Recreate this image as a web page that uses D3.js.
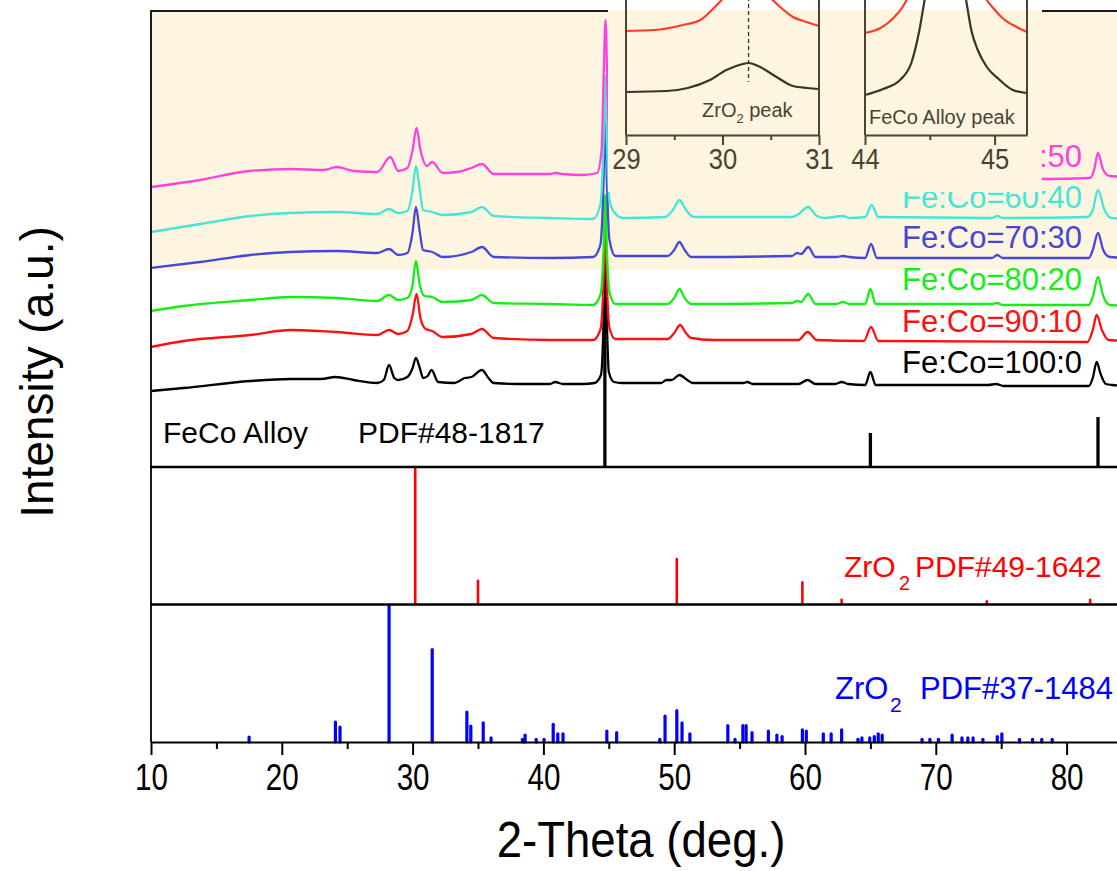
<!DOCTYPE html>
<html><head><meta charset="utf-8">
<script src="https://cdn.jsdelivr.net/npm/d3@7"></script>
<style>body{margin:0;background:#fff}svg{display:block}text{font-family:"Liberation Sans",Arial,sans-serif}</style>
</head><body><svg id="c" width="1117" height="871"></svg>
<script>
// ---------- DATA (2-theta in degrees, intensity in a.u.) ----------
const seriesNames = ["Fe:Co=100:0","Fe:Co=90:10","Fe:Co=80:20","Fe:Co=70:30","Fe:Co=60:40","Fe:Co=50:50"];
const s100_0 = [[10,76],[12.5,79],[17.6,86],[20.7,88],[23,88],[24.1,90],[25.5,87],[27.3,84],[27.8,87],[28.2,102],[28.6,89],[28.9,87],[29.6,90],[30,99],[30.25,109],[30.55,99],[30.8,89],[31.15,91],[31.45,97],[31.95,85],[33.2,84],[34,89],[34.5,90],[35.3,97],[35.8,89],[36.2,84],[38,83],[40.5,83],[40.9,85],[41.5,83],[43,83],[43.9,84],[44.4,92],[44.6,147],[44.72,227],[44.85,147],[45,95],[45.4,85],[46,84],[49,84],[49.4,87],[49.8,87],[50.4,92],[51,87],[51.4,84],[55.3,84],[55.6,85],[56,83],[59.5,83],[60.2,87],[60.8,83],[62.3,83],[62.8,85],[63.3,83],[64.6,82],[65,95],[65.4,82],[74,82],[74.6,83],[75.2,81],[81.7,81],[82,89],[82.3,105],[82.6,93],[83,83],[83.5,82],[85,81]];
const s90_10 = [[10,120],[12.5,126],[17.6,132],[20.7,137],[24.2,135],[27.3,132],[28.2,137],[28.9,133],[29.6,136],[30,152],[30.3,173],[30.6,149],[31,138],[31.5,136],[32.3,130],[34.5,133],[35.3,138],[36.2,129],[40.5,127],[43.8,127],[44.35,137],[44.6,187],[44.72,257],[44.85,187],[45.05,139],[45.5,128],[49.5,128],[50,134],[50.45,142],[50.9,134],[51.3,129],[53,127],[59.5,127],[60.2,135],[60.9,127],[64.5,126],[65.05,140],[65.6,126],[81.6,125],[82,137],[82.3,152],[82.7,137],[83.2,127],[85,126]];
const s80_20 = [[10,156],[12.5,161],[17.6,167],[20.7,170],[24.2,169],[27.3,166],[28.2,172],[28.9,167],[29.6,169],[30,182],[30.25,206],[30.55,182],[30.9,171],[31.5,170],[32.3,165],[34.5,167],[35.3,172],[36.2,164],[40.5,163],[43.8,162],[44.35,172],[44.6,217],[44.72,272],[44.85,217],[45.05,175],[45.5,163],[49.5,163],[50,169],[50.4,178],[50.8,169],[51.3,163],[59,164],[59.4,166],[59.7,165],[60.25,173],[60.8,163],[62.4,163],[62.9,165],[63.4,163],[64.6,163],[65,178],[65.4,163],[74.3,163],[74.7,164],[75.1,162],[81.7,162],[82,170],[82.4,190],[82.8,171],[83.3,162],[85,161]];
const s70_30 = [[10,199],[13.75,205],[17.6,212],[20.6,215],[24.2,216],[27.3,214],[28.2,218],[28.9,212],[29.6,214],[30,235],[30.25,260],[30.55,235],[30.8,217],[31.5,215],[32.3,210],[34.5,215],[35.3,220],[36.2,210],[40.5,209],[43.8,210],[44.35,222],[44.6,287],[44.72,354],[44.85,287],[45.05,227],[45.5,211],[49.5,211],[50,217],[50.4,225],[50.8,217],[51.3,210],[59,211],[59.4,214],[59.7,213],[60.25,220],[60.8,210],[62.4,210],[62.9,211],[63.4,210],[64.6,209],[65.05,223],[65.5,209],[74.3,209],[74.7,212],[75.1,209],[81.7,209],[82,217],[82.4,234],[82.8,217],[83.3,210],[85,209]];
const s60_40 = [[10,235],[13.75,243],[17.6,251],[20.6,254],[24.2,255],[27.3,253],[28.2,258],[28.9,254],[29.6,256],[30,277],[30.25,301],[30.55,277],[30.8,257],[31.5,255],[32.3,252],[34.5,255],[35.3,260],[36.2,251],[40.5,249],[43.8,248],[44.35,262],[44.6,327],[44.72,392],[44.85,327],[45.05,267],[45.4,255],[46.1,249],[49.3,250],[49.9,257],[50.4,267],[50.9,257],[51.5,250],[59,250],[59.5,253],[60.25,260],[60.9,251],[61.5,249],[62.9,251],[63.4,249],[64.6,250],[65.1,262],[65.6,250],[74.3,249],[74.7,251],[75.1,249],[81.6,250],[82,257],[82.4,277],[82.9,257],[83.4,249],[85,248]];
const s50_50 = [[10,280],[13.75,287],[17.5,296],[20.7,298],[23.2,297],[24.2,300],[25.5,296],[27.3,295],[28.3,310],[28.9,296],[29.6,299],[30,317],[30.3,339],[30.6,317],[31.1,301],[31.5,305],[32.3,294],[33.4,295],[34.5,299],[35.3,303],[36.2,293],[40.5,293],[40.9,294],[41.5,293],[43,292],[44.1,294],[44.45,317],[44.6,387],[44.75,447],[44.9,377],[45.1,307],[45.5,291],[78.5,288],[81.8,289],[82.1,297],[82.4,314],[82.8,297],[83.3,291],[85,290]];

// Reference patterns (position in 2-theta, relative intensity %)
const feCoPos = [44.7, 65.0, 82.4];
const feCoInt = [100, 15, 22];
const zrTetPos = [30.2, 35.0, 50.2, 59.8, 62.8, 73.9, 81.8];
const zrTetInt = [100, 17, 33, 16, 3, 2, 3];
const zrMonoPos = [17.5,24.1,24.45,28.2,31.5,34.15,34.45,35.4,36.0,38.4,38.6,39.45,40.05,40.75,41.1,41.5,44.85,45.6,48.9,49.3,50.2,50.6,51.2,54.1,54.65,55.25,55.5,55.95,57.2,57.85,58.25,59.8,60.1,61.4,62.0,62.8,64.05,64.35,64.95,65.3,65.6,65.9,68.95,69.55,70.2,71.25,72.0,72.45,72.85,73.6,74.7,75.05,76.4,77.4,78.1,78.9];
const zrMonoInt = [3.6,14.6,11,100,68,22,11.7,14,3,2,5,2,2,13,6,6,8,7,2,19,23,14,6,12,2,12,12,7,8,5,4,9,8,6,6,9,2,3,3,4,6,5,2,2,2,5,3,3,3,2,4,6,2,2,2,2];

// Insets (zoomed patterns of Fe:Co=100:0 and Fe:Co=90:10)
const insetZrBlack = [[29,43],[29.42,44],[29.64,47],[29.87,55],[30.04,65],[30.21,71],[30.27,72],[30.39,68],[30.56,58],[30.73,49],[30.88,47],[31,46]];
const insetZrRed = [[29,104],[29.3,105],[29.59,110],[29.77,115],[29.89,125],[29.99,135],[30.12,149],[30.27,155],[30.4,148],[30.52,135],[30.61,127],[30.73,118],[30.87,113],[31,109]];
const insetFeBlack = [[44,40],[44.14,46],[44.27,55],[44.36,73],[44.42,105],[44.46,135],[44.54,185],[44.62,215],[44.7,185],[44.78,135],[44.82,105],[44.87,85],[44.94,68],[45.04,55],[45.14,45],[45.25,42]];
const insetFeRed = [[44,102],[44.12,107],[44.22,117],[44.29,128],[44.32,135],[44.45,195],[44.62,255],[44.8,195],[44.94,135],[44.99,127],[45.06,117],[45.17,108],[45.25,103]];
const inset1Ticks = [29,30,31], inset1Minor = [29.5,30.5];
const inset2Ticks = [44,45], inset2Minor = [44.5];
const zrPeakPos = 30.27;

const xTicks = [10,20,30,40,50,60,70,80];
const xMinor = [15,25,35,45,55,65,75,85];

// ---------- DRAWING ----------
const svg = d3.select("#c");
const colors = ["#000000","#ff1010","#14ee14","#4646dc","#44e6d6","#ff42dc"];
const beige = "#fdf5e0";
const inkInset = "#4a4232";

const x = d3.scaleLinear().domain([10,90]).range([151, 151+80*13.08]);
const yMain = d3.scaleLinear().domain([0,457]).range([467,10]);
const yTopStick = d3.scaleLinear().domain([0,100]).range([467,240]);
const yMidStick = d3.scaleLinear().domain([0,100]).range([604,468]);
const yBotStick = d3.scaleLinear().domain([0,100]).range([742,606]);

svg.append("rect").attr("x",0).attr("y",0).attr("width",1117).attr("height",871).attr("fill","#fff");
svg.append("rect").attr("x",151).attr("y",11).attr("width",1000).attr("height",259).attr("fill",beige);

// reference sticks
svg.append("g").selectAll("line").data(feCoPos).join("line")
  .attr("x1",d=>x(d)).attr("x2",d=>x(d)).attr("y1",yTopStick(0)).attr("y2",(d,i)=>yTopStick(feCoInt[i]))
  .attr("stroke","#000").attr("stroke-width",3.3);
svg.append("g").selectAll("line").data(zrTetPos).join("line")
  .attr("x1",d=>x(d)).attr("x2",d=>x(d)).attr("y1",yMidStick(0)).attr("y2",(d,i)=>yMidStick(zrTetInt[i]))
  .attr("stroke","#ff0000").attr("stroke-width",2.6).attr("stroke-linecap","round");
svg.append("g").selectAll("line").data(zrMonoPos).join("line")
  .attr("x1",d=>x(d)).attr("x2",d=>x(d)).attr("y1",yBotStick(0)).attr("y2",(d,i)=>yBotStick(zrMonoInt[i]))
  .attr("stroke","#0000ff").attr("stroke-width",3.2).attr("stroke-linecap","round");

// curves
const line = d3.line().x(d=>x(d[0])).y(d=>yMain(d[1])).curve(d3.curveMonotoneX);
const allSeries = [s100_0,s90_10,s80_20,s70_30,s60_40,s50_50];
svg.append("g").selectAll("path").data(allSeries).join("path")
  .attr("d",line).attr("fill","none").attr("stroke",(d,i)=>colors[i]).attr("stroke-width",2.3).attr("stroke-linejoin","round");

// series labels
const labelBase = [373,332,290,248,208,167];
svg.append("g").selectAll("text").data(seriesNames).join("text")
  .attr("x",902).attr("y",(d,i)=>labelBase[i]).attr("font-size",31).attr("fill",(d,i)=>colors[i]).text(d=>d);

// cover box for insets
svg.append("rect").attr("x",608).attr("y",10).attr("width",434).attr("height",182).attr("fill",beige);

// insets
function inset(domain, r0, r1, blk, red, ticks, minor){
  const xi = d3.scaleLinear().domain(domain).range([r0,r1]);
  const yi = d3.scaleLinear().domain([0,135]).range([135,0]);
  const g = svg.append("g");
  const l = d3.line().x(d=>xi(d[0])).y(d=>yi(d[1])).curve(d3.curveMonotoneX);
  g.append("path").attr("d",l(red)).attr("fill","none").attr("stroke","#ff3a28").attr("stroke-width",2.2);
  g.append("path").attr("d",l(blk)).attr("fill","none").attr("stroke","#3a3328").attr("stroke-width",2.2);
  g.append("line").attr("x1",r0).attr("x2",r0).attr("y1",-10).attr("y2",135).attr("stroke",inkInset).attr("stroke-width",2);
  g.append("line").attr("x1",r1).attr("x2",r1).attr("y1",-10).attr("y2",135).attr("stroke",inkInset).attr("stroke-width",2);
  const ax = g.append("g").attr("transform","translate(0,135)")
    .call(d3.axisBottom(xi).tickValues(ticks).tickSize(10).tickSizeOuter(0).tickPadding(3).tickFormat(d3.format("d")));
  ax.select(".domain").attr("stroke",inkInset).attr("stroke-width",2);
  ax.selectAll(".tick line").attr("stroke",inkInset).attr("stroke-width",2);
  ax.selectAll(".tick text").attr("font-size",30).attr("fill",inkInset).attr("font-family","Liberation Sans, Arial, sans-serif").attr("transform","scale(0.85,1)");
  const axm = g.append("g").attr("transform","translate(0,135)")
    .call(d3.axisBottom(xi).tickValues(minor).tickSize(5).tickSizeOuter(0).tickFormat(""));
  axm.select(".domain").remove();
  axm.selectAll(".tick line").attr("stroke",inkInset).attr("stroke-width",2);
  return {g, xi};
}
const in1 = inset([29,31],626,819,insetZrBlack,insetZrRed,inset1Ticks,inset1Minor);
in1.g.append("line").attr("x1",in1.xi(zrPeakPos)).attr("x2",in1.xi(zrPeakPos)).attr("y1",-10).attr("y2",82)
  .attr("stroke","#3a3328").attr("stroke-width",1.3).attr("stroke-dasharray","4,3");
const t1 = in1.g.append("text").attr("x",702).attr("y",117).attr("font-size",20).attr("fill",inkInset);
t1.append("tspan").text("ZrO");
t1.append("tspan").attr("font-size",13).attr("dy",6).text("2");
t1.append("tspan").attr("dy",-6).text(" peak");
const in2 = inset([44,45.25],865,1027,insetFeBlack,insetFeRed,inset2Ticks,inset2Minor);
in2.g.append("text").attr("x",869).attr("y",124).attr("font-size",20).attr("fill",inkInset).text("FeCo Alloy peak");

// frame / axes
const frame = svg.append("g").attr("stroke","#1a1a1a").attr("stroke-width",2);
frame.append("line").attr("x1",150).attr("x2",608).attr("y1",11).attr("y2",11);
frame.append("line").attr("x1",1042).attr("x2",1117).attr("y1",11).attr("y2",11);
frame.append("line").attr("x1",151).attr("x2",151).attr("y1",10).attr("y2",742);
frame.append("line").attr("x1",150).attr("x2",1117).attr("y1",467).attr("y2",467).attr("stroke","#000").attr("stroke-width",2.4);
frame.append("line").attr("x1",150).attr("x2",1117).attr("y1",604.5).attr("y2",604.5).attr("stroke","#000").attr("stroke-width",2.4);

const xAxis = svg.append("g").attr("transform","translate(0,742)")
  .call(d3.axisBottom(x).tickValues(xTicks).tickSize(13).tickSizeOuter(0).tickPadding(9).tickFormat(d3.format("d")));
xAxis.select(".domain").attr("stroke","#000").attr("stroke-width",2.2);
xAxis.selectAll(".tick line").attr("stroke","#000").attr("stroke-width",2);
xAxis.selectAll(".tick text").attr("font-size",37).attr("fill","#000").attr("font-family","Liberation Sans, Arial, sans-serif").attr("transform","scale(0.8,1)");
const xAxisMinor = svg.append("g").attr("transform","translate(0,742)")
  .call(d3.axisBottom(x).tickValues(xMinor).tickSize(7).tickSizeOuter(0).tickFormat(""));
xAxisMinor.select(".domain").remove();
xAxisMinor.selectAll(".tick line").attr("stroke","#000").attr("stroke-width",2);

// titles
svg.append("text").attr("transform","translate(641,857) scale(0.93,1.02)").attr("text-anchor","middle").attr("font-size",49).attr("fill","#000").text("2-Theta (deg.)");
svg.append("text").attr("transform","translate(53,372) rotate(-90)").attr("text-anchor","middle").attr("font-size",46).attr("fill","#000").text("Intensity (a.u.)");

// reference labels
const fl = svg.append("text").attr("y",443).attr("font-size",30).attr("fill","#000");
fl.append("tspan").attr("x",163).text("FeCo Alloy");
fl.append("tspan").attr("x",358).text("PDF#48-1817");

const rl = svg.append("text").attr("y",577).attr("font-size",30).attr("fill","#ff0000");
rl.append("tspan").attr("x",844).text("ZrO");
rl.append("tspan").attr("x",899).attr("dy",13).attr("font-size",20).text("2");
rl.append("tspan").attr("x",915).attr("dy",-13).text("PDF#49-1642");

const bl = svg.append("text").attr("y",699).attr("font-size",31).attr("fill","#0000ff");
bl.append("tspan").attr("x",835).text("ZrO");
bl.append("tspan").attr("x",890).attr("dy",13).attr("font-size",21).text("2");
bl.append("tspan").attr("x",920).attr("dy",-13).text("PDF#37-1484");
</script></body></html>
